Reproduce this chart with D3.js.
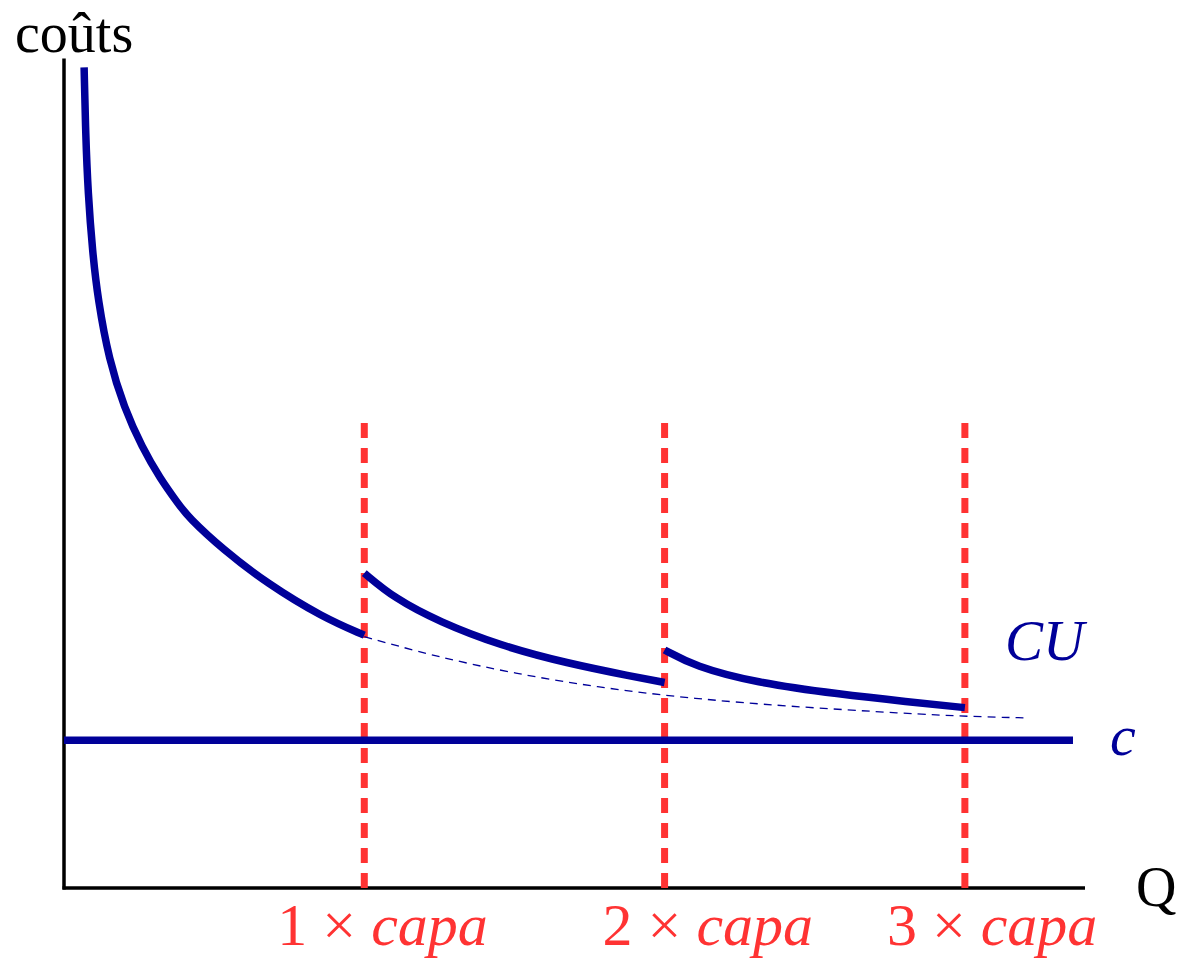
<!DOCTYPE html>
<html>
<head>
<meta charset="utf-8">
<script src="https://cdn.jsdelivr.net/npm/d3@7"></script>
<style>
  body { margin: 0; background: #fff; }
  svg { display: block; }
</style>
</head>
<body>
<div id="chart"></div>
<script>
// Values (q in units of capa, cost with c = 1)
const marginalCost = 1;
const capacities = [1, 2, 3];
const capaLabels = ["1", "2", "3"];

// CU curve, one piece for each number of installed capacities
const segment1 = [
  [0.067, 5.55], [0.072, 5.10], [0.080, 4.70], [0.095, 4.30], [0.113, 3.98],
  [0.150, 3.57], [0.200, 3.25], [0.260, 2.98], [0.320, 2.77], [0.380, 2.60],
  [0.413, 2.51], [0.529, 2.29], [0.676, 2.06], [0.862, 1.83], [1.000, 1.71]
];
const segment2 = [
  [1.000, 2.13], [1.100, 1.96], [1.250, 1.80], [1.452, 1.64],
  [1.675, 1.52], [1.895, 1.43], [2.000, 1.39]
];
const segment3 = [
  [2.000, 1.61], [2.100, 1.50], [2.300, 1.39], [2.584, 1.31],
  [2.807, 1.26], [3.000, 1.22]
];
// thin dashed continuation of the first piece
const continuation = [
  [1.000, 1.70], [1.229, 1.57], [1.500, 1.45], [1.800, 1.35], [2.100, 1.28],
  [2.400, 1.23], [2.807, 1.18], [3.010, 1.16], [3.210, 1.15]
];

const width = 1178, height = 958;
const blue = "#000099", red = "#ff3333";
const serif = "'Liberation Serif', 'Times New Roman', serif";

const svg = d3.select("#chart")
  .append("svg")
    .attr("width", width)
    .attr("height", height);

// Scales
const x = d3.scaleLinear().domain([0, 3.4]).range([64, 1085]);
const y = d3.scaleLinear().domain([0, 5.6]).range([888, 60]);

// Axes (plain lines, no ticks)
svg.append("line")
  .attr("x1", x(0)).attr("x2", x(0))
  .attr("y1", y(0) + 1.5).attr("y2", y(5.61))
  .attr("stroke", "#000").attr("stroke-width", 3.5);
svg.append("line")
  .attr("x1", x(0) - 1.5).attr("x2", x(3.4))
  .attr("y1", y(0)).attr("y2", y(0))
  .attr("stroke", "#000").attr("stroke-width", 3.5);

// Capacity markers
svg.selectAll(".capa")
  .data(capacities)
  .join("line")
    .attr("class", "capa")
    .attr("x1", d => x(d)).attr("x2", d => x(d))
    .attr("y1", y(0)).attr("y2", y(3.2))
    .attr("stroke", red)
    .attr("stroke-width", 7)
    .attr("stroke-dasharray", "15,10");

// Marginal cost c
svg.append("line")
  .attr("x1", x(0)).attr("x2", x(3.36))
  .attr("y1", y(marginalCost)).attr("y2", y(marginalCost))
  .attr("stroke", blue).attr("stroke-width", 7.5);

const line = d3.line()
  .x(d => x(d[0]))
  .y(d => y(d[1]))
  .curve(d3.curveBasis);

// dashed continuation
svg.append("path")
  .attr("d", line(continuation))
  .attr("fill", "none")
  .attr("stroke", blue)
  .attr("stroke-width", 1.3)
  .attr("stroke-dasharray", "8,6");

// CU pieces
svg.selectAll(".cu")
  .data([segment1, segment2, segment3])
  .join("path")
    .attr("class", "cu")
    .attr("d", line)
    .attr("fill", "none")
    .attr("stroke", blue)
    .attr("stroke-width", 7.5);

// Axis titles
svg.append("text")
  .attr("x", 15).attr("y", 52)
  .style("font-family", serif).style("font-size", "56px")
  .text("coûts");

svg.append("text")
  .attr("x", 1136).attr("y", 906)
  .style("font-family", serif).style("font-size", "56px")
  .text("Q");

// Curve labels
svg.append("text")
  .attr("x", 1005).attr("y", 660)
  .style("font-family", serif).style("font-size", "57px")
  .style("font-style", "italic").attr("fill", blue)
  .text("CU");

svg.append("text")
  .attr("x", 1110).attr("y", y(marginalCost) + 15)
  .style("font-family", serif).style("font-size", "58px")
  .style("font-style", "italic").attr("fill", blue)
  .text("c");

// Capacity labels
const labelShift = [-87, -62, -78];
const capaText = svg.selectAll(".capa-label")
  .data(capacities)
  .join("text")
    .attr("class", "capa-label")
    .attr("x", (d, i) => x(d) + labelShift[i])
    .attr("y", 945)
    .style("font-family", serif).style("font-size", "60px")
    .attr("fill", red);
capaText.append("tspan").text((d, i) => capaLabels[i] + " × ");
capaText.append("tspan").style("font-style", "italic").text("capa");
</script>
</body>
</html>
